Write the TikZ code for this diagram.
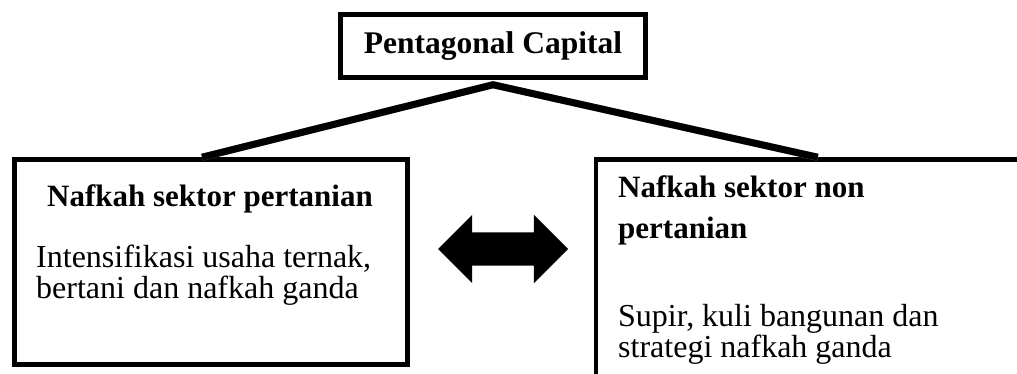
\documentclass[tikz,border=0pt]{standalone}
\usepackage{fontspec}
\setmainfont{Liberation Serif}
\usepackage{tikz}
\usetikzlibrary{positioning, shapes.arrows}
\definecolor{shadegray}{HTML}{A0A0A0}
\tikzset{
  capbox/.style={draw=black, line width=4.5pt, inner sep=0pt,
    minimum width=305pt, minimum height=63pt, font=\fontsize{31.5}{31}\selectfont\bfseries},
  sectorbox/.style={draw=black, line width=4.5pt, inner sep=0pt},
  linkline/.style={line width=7pt, black, line join=miter},
  linkshade/.style={line width=7pt, shadegray, line join=miter},
  swaparrow/.style={double arrow, fill=black, inner xsep=0pt, inner ysep=16.5pt,
    minimum height=130pt, minimum width=68pt, double arrow head extend=17.5pt},
  headtext/.style={font=\fontsize{31}{31}\selectfont\bfseries, inner sep=0pt, align=left},
  bodytext/.style={font=\fontsize{32}{30.5}\selectfont, inner sep=0pt, align=left},
}
\begin{document}
\begin{tikzpicture}[x=1pt, y=-1pt]
  \clip (0,0) rectangle (1017,374);
  % kotak utama dan dua sektor
  \node[capbox] (capital) at (493,46) {Pentagonal Capital};
  \node[sectorbox, minimum width=393pt, minimum height=205pt] (farm) at (211,262) {};
  \node[sectorbox, minimum width=520pt, minimum height=320pt] (nonfarm) at (856,319.5) {};
  \coordinate (farmtop) at ([xshift=-9pt]farm.north);
  \coordinate (nonfarmtop) at ([xshift=224pt]nonfarm.north west);
  % garis penghubung (dengan bayangan)
  \draw[linkshade, shift={(2,4.5)}] (farmtop) -- ([yshift=-5pt]capital.south) -- (nonfarmtop);
  \draw[linkline] (farmtop) -- ([yshift=-5pt]capital.south) -- (nonfarmtop);
  % isi kotak kiri
  \node[headtext, anchor=base] (farmhead) at (210,207) {Nafkah sektor pertanian};
  \node[bodytext, anchor=base west] (farmbody) at (36,298) {Intensifikasi usaha ternak,\\bertani dan nafkah ganda};
  % isi kotak kanan
  \node[headtext, anchor=base west] (nonfarmhead) at (618,238) {Nafkah sektor non\\[9pt]pertanian};
  \node[bodytext, anchor=base west] (nonfarmbody) at (618,357) {Supir, kuli bangunan dan\\strategi nafkah ganda};
  % panah dua arah
  \node[swaparrow] (swap) at (503,249) {};
\end{tikzpicture}
\end{document}
